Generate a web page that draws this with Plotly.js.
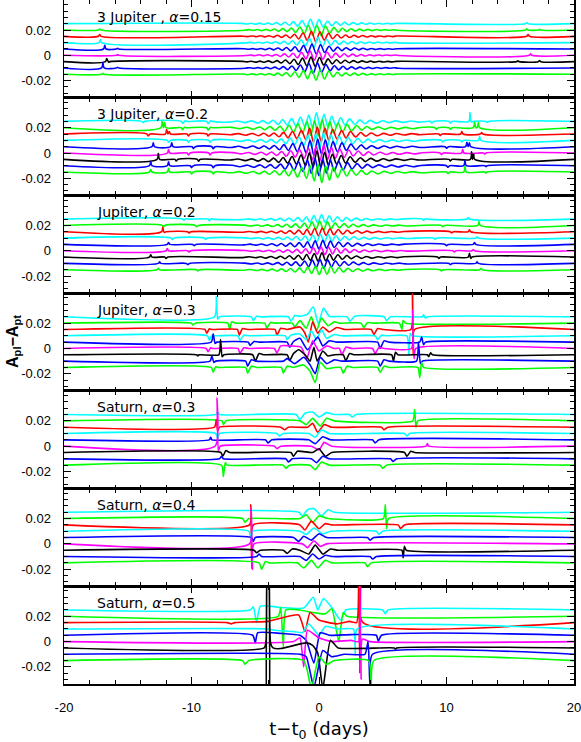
<!DOCTYPE html>
<html><head><meta charset="utf-8">
<script src="https://cdn.plot.ly/plotly-3.0.1.min.js"></script>
<style>body{margin:0;background:#fff}</style></head>
<body><div id="c" style="width:581px;height:742px"></div>
<script>
// ---------- data ----------
const COLORS = ['#00ffff','#00ff00','#ff0000','#00ffff','#0000ff','#ff00ff','#000000','#0000ff','#00ff00'];
const BASES = [0.025,0.02,0.015,0.01,0.005,0,-0.005,-0.01,-0.015];
const PANEL_TITLES = ['3 Jupiter , <i>α</i>=0.15','3 Jupiter, <i>α</i>=0.2','Jupiter, <i>α</i>=0.2','Jupiter, <i>α</i>=0.3','Saturn, <i>α</i>=0.3','Saturn, <i>α</i>=0.4','Saturn, <i>α</i>=0.5'];
const X_TICKS = [-20,-10,0,10,20];
const X_TICKTEXT = ['-20','-10','0','10','20'];
const Y_TICKS = [-0.02,0,0.02];
const Y_TICKTEXT = ['-0.02','0','0.02'];

// deviations in units of 1e-3, rows: cyan, green, red, cyan, blue, magenta, black, blue, green
const P1_T = [-6,-5.67,-5.33,-5,-4.67,-4.33,-4,-3.67,-3.33,-3,-2.67,-2.33,-2,-1.67,-1.33,-1,-0.67,-0.33,0,0.33,0.67,1,1.33,1.67,2,2.33,2.67,3,3.33,3.67,4,4.33,4.67,5,5.33,5.67,6];
const P1_SHIFT = [0,0.17,0.08,0.26,0.12,0.3,0.04,0.21,0.1];
const P1_WIG = [
[0.2,-0.3,0.3,-0.4,0.4,-0.5,0.5,-0.7,0.8,-1,1.1,-1.3,1.6,-2,2.4,-2.8,3.4,-3.5,3.2,-2.6,2.1,-1.7,1.4,-1.2,1,-0.9,0.8,-0.7,0.6,-0.5,0.5,-0.4,0.3,-0.3,0.3,-0.2,0.2],
[-0.2,0.3,-0.3,0.4,-0.5,0.5,-0.6,0.8,-0.9,1.1,-1.3,1.6,-2,2.4,-2.9,3.5,-4.2,3.6,-4.6,3.2,-2.6,2.1,-1.7,1.4,-1.2,1,-0.9,0.7,-0.6,0.5,-0.5,0.4,-0.3,0.3,-0.2,0.2,-0.2],
[0.1,-0.2,0.3,-0.3,0.4,-0.4,0.5,-0.6,0.8,-0.9,1.1,-1.3,1.6,-2,2.6,-3.2,4,-4.4,3.6,-3,2.3,-1.9,1.5,-1.3,1,-0.9,0.8,-0.7,0.6,-0.5,0.4,-0.4,0.3,-0.3,0.2,-0.2,0.2],
[-0.2,0.2,-0.3,0.3,-0.4,0.5,-0.5,0.7,-0.8,1,-1.2,1.4,-1.8,2.2,-2.6,3.2,-3.8,4.2,-3.4,2.7,-2.2,1.8,-1.5,1.2,-1,0.9,-0.8,0.7,-0.6,0.5,-0.4,0.4,-0.3,0.3,-0.2,0.2,-0.2],
[0.2,-0.2,0.3,-0.3,0.4,-0.5,0.6,-0.7,0.8,-1,1.2,-1.5,1.8,-2.2,2.7,-3.2,3.8,-4,3.4,-2.8,2.2,-1.8,1.5,-1.3,1,-0.9,0.8,-0.7,0.6,-0.5,0.4,-0.4,0.3,-0.3,0.2,-0.2,0.2],
[-0.2,0.2,-0.3,0.4,-0.4,0.5,-0.6,0.7,-0.9,1.1,-1.3,1.6,-2,2.4,-2.8,3.3,-3.8,3.6,-3.2,2.6,-2.1,1.7,-1.4,1.2,-1,0.9,-0.8,0.7,-0.6,0.5,-0.4,0.3,-0.3,0.3,-0.2,0.2,-0.2],
[0.2,-0.2,0.3,-0.4,0.4,-0.5,0.6,-0.7,0.8,-1,1.3,-1.6,1.9,-2.3,2.8,-3.3,3.6,-3.8,3.3,-2.7,2.2,-1.8,1.5,-1.3,1.1,-0.9,0.8,-0.7,0.6,-0.5,0.4,-0.4,0.3,-0.3,0.2,-0.2,0.2],
[-0.2,0.2,-0.3,0.3,-0.4,0.5,-0.6,0.7,-0.9,1.1,-1.3,1.6,-2,2.4,-3,3.5,-4.2,3.8,-3.4,2.7,-2.2,1.8,-1.5,1.3,-1.1,0.9,-0.8,0.7,-0.6,0.5,-0.4,0.4,-0.3,0.3,-0.2,0.2,-0.2],
[0.2,-0.3,0.3,-0.4,0.4,-0.5,0.6,-0.8,0.9,-1.1,1.4,-1.7,2,-2.5,3,-3.6,3.4,-4.6,3.6,-3.6,2.5,-2,1.6,-1.3,1.1,-1,0.9,-0.8,0.7,-0.6,0.5,-0.4,0.4,-0.3,0.3,-0.2,0.2]
];
const P1_FEAT = [
[[16.2,0],[16.3,0.8],[16.4,0]],
[[-17.3,0],[-17.2,0.8],[-17.1,0],[16.2,0],[16.3,1],[16.4,0],[17.2,0],[17.3,0.6],[17.4,0]],
[[-17.3,0],[-17.2,1.5],[-17.1,0],[16.3,0],[16.4,1.5],[16.5,0]],
[[-17.25,0],[-17.15,2.5],[-17.05,0]],
[[-16.9,0],[-16.8,3],[-16.7,0],[-15.9,0],[-15.8,0.6],[-15.7,0]],
[[-15.9,0],[-15.8,0.6],[-15.7,0],[16.5,0],[16.6,1.2],[16.7,0]],
[[-16.75,0],[-16.65,2.5],[-16.5,-0.5],[-16.4,0],[15.5,0],[15.6,0.6],[15.7,0],[17.2,0],[17.3,0.8],[17.4,0]],
[[-17.05,0],[-16.95,4],[-16.85,0],[-15.9,0],[-15.8,0.5],[-15.7,0]],
[[-17.05,0],[-16.95,0.8],[-16.85,0]]
];

const P2_T = [-7,-6.4,-5.8,-5.3,-4.8,-4.4,-4,-3.6,-3.2,-2.85,-2.5,-2.15,-1.8,-1.45,-1.1,-0.8,-0.5,-0.2,0.1,0.4,0.7,1.0,1.35,1.7,2.05,2.4,2.8,3.2,3.6,4.0,4.5,5.0,5.5,6.0,6.6,7.2,7.8];
const P2_SHIFT = [0,0.15,0.07,0.24,0.1,0.28,0.04,0.19,0.12];
const P2_WIG = [
[-0.6,0.3,-1,0.4,-1.4,0.6,-1.8,0.9,-2.4,1.4,-3,2.2,-3.8,3.4,-4.6,5,-5.5,6.8,-5,5.5,-4.5,4,-3.6,2.8,-3,2,-2.4,1.2,-1.8,0.8,-1.4,0.5,-1,0.4,-0.8,0.3,-0.6],
[0.3,-0.8,0.4,-1.2,0.6,-1.6,0.9,-2,1.2,-2.8,2,-3.6,3,-4.5,4.8,-6,5.5,-6.5,6.5,-5.5,4.8,-4.4,3.6,-3.4,2.6,-2.6,1.8,-1.9,1,-1.4,0.6,-1.2,0.4,-1,0.3,-0.8,0.2],
[-0.5,0.3,-0.9,0.4,-1.3,0.6,-1.7,0.8,-2.2,1.3,-3,2,-3.6,3,-4.6,4.8,-6.5,5.5,-6,4.8,-5,3.8,-4,2.8,-3.2,2,-2.4,1.2,-1.8,0.8,-1.4,0.5,-1,0.4,-0.8,0.3,-0.5],
[0.3,-0.8,0.4,-1.2,0.6,-1.5,0.8,-2,1.2,-2.6,1.8,-3.4,2.6,-4.2,3.8,-5.5,5,-6.8,5.8,-5.2,4.4,-4.2,3.2,-3.4,2.4,-2.6,1.6,-2,1,-1.5,0.6,-1.1,0.4,-0.9,0.3,-0.7,0.2],
[-0.6,0.3,-1,0.5,-1.4,0.6,-1.8,1,-2.4,1.6,-3,2.4,-4,3.4,-5,5,-7,6,-6,5.5,-5,4,-4,3,-3,2,-2.4,1.4,-1.8,0.8,-1.4,0.5,-1,0.4,-0.8,0.3,-0.6],
[0.3,-0.7,0.4,-1.1,0.6,-1.5,0.8,-2,1.2,-2.6,1.8,-3.2,2.6,-4.2,3.8,-5.5,5.6,-6,6.5,-5,4.4,-4.2,3.2,-3.4,2.4,-2.4,1.6,-2,1,-1.5,0.6,-1.2,0.4,-1,0.3,-0.7,0.2],
[-0.5,0.3,-1,0.4,-1.4,0.6,-1.8,1,-2.4,1.5,-3,2.2,-3.8,3.4,-5,5.2,-6,6.5,-6.5,5.5,-4.8,4,-3.8,3,-3,2,-2.4,1.3,-1.8,0.8,-1.4,0.5,-1,0.4,-0.8,0.3,-0.5],
[0.3,-0.8,0.4,-1.2,0.6,-1.6,0.8,-2,1.2,-2.8,2,-3.6,3,-4.4,4.4,-6,6,-8,5.5,-6,4.6,-4.2,3.4,-3.4,2.4,-2.6,1.6,-2,1,-1.5,0.6,-1.2,0.4,-1,0.3,-0.8,0.2],
[-0.6,0.3,-1,0.4,-1.4,0.6,-1.8,1,-2.4,1.5,-3,2.4,-4,3.5,-5,5,-7,6,-8.5,5,-6.5,4,-4.4,3,-3.2,2,-2.6,1.3,-2,0.8,-1.5,0.5,-1.1,0.4,-0.8,0.3,-0.6]
];
const P2_FEAT = [
[[-13.9,0],[-13.8,-1],[-13.65,0],[-10.8,0],[-10.7,-1.5],[-10.5,0.4],[-10.35,0],[-8.8,0],[-8.7,-1.8],[-8.5,0.4],[-8.35,0],[8.7,0],[8.85,-1.2],[9.0,0],[10.2,0],[10.3,-1.2],[10.45,0],[11.74,0],[11.84,7],[11.94,-0.5],[12.1,0],[13.1,0],[13.2,-0.8],[13.3,0]],
[[-12.4,0],[-12.3,5],[-12.2,0],[-12.1,4],[-12.0,0],[-10.8,0],[-10.7,-1.5],[-10.55,0.3],[-10.4,0],[-8.8,0],[-8.7,-1.8],[-8.5,0.4],[-8.35,0],[9.1,0],[9.2,-1.2],[9.35,0],[10.2,0],[10.3,-1.2],[10.45,0],[12.1,0],[12.2,4],[12.3,0],[12.4,0],[12.5,4],[12.6,0]],
[[-13.5,0],[-13.4,-1.5],[-13.25,0],[-12.05,0],[-11.95,3.5],[-11.85,0],[-11.75,2],[-11.65,0],[-10.35,0],[-10.25,-1.5],[-10.1,0],[-8.8,0],[-8.7,-1.6],[-8.55,0],[9.4,0],[9.5,-1.2],[9.65,0],[11.1,0],[11.2,2],[11.3,0],[12.65,0],[12.76,1.2],[12.85,0]],
[[-11.9,0],[-11.8,-1.5],[-11.65,0],[-10.35,0],[-10.25,-1.5],[-10.1,0],[-8.65,0],[-8.55,-1.5],[-8.4,0],[9.6,0],[9.7,-1.2],[9.85,0],[11.1,0],[11.2,-1.2],[11.35,0],[12.5,0],[12.6,3],[12.7,0]],
[[-13.1,0],[-13.0,3],[-12.9,0],[-11.65,0],[-11.55,3],[-11.45,0],[-9.95,0],[-9.85,-1.5],[-9.7,0],[-8.4,0],[-8.3,-1.6],[-8.15,0],[9.9,0],[10.0,-1.2],[10.15,0],[11.5,0],[11.6,3.5],[11.7,0],[11.8,3],[11.9,0]],
[[-11.9,0],[-11.8,3],[-11.7,0],[-10.35,0],[-10.25,-1.5],[-10.1,0],[-8.65,0],[-8.55,-1.5],[-8.4,0],[9.5,0],[9.6,-1.2],[9.75,0],[11.17,0],[11.27,3],[11.37,0],[12.9,0],[13.0,-0.8],[13.1,0]],
[[-12.7,0],[-12.6,4.5],[-12.5,0],[-11.3,0],[-11.2,-1.2],[-11.05,0],[-9.55,0],[-9.45,-1.5],[-9.3,0],[10.2,0],[10.3,-1.2],[10.45,0],[11.87,0],[11.97,6],[12.05,0],[12.13,4],[12.22,0]],
[[-13.3,0],[-13.2,3],[-13.1,0],[-11.9,0],[-11.8,3],[-11.7,0],[-10.1,0],[-10.0,-1.5],[-9.85,0],[-8.4,0],[-8.3,-1.6],[-8.15,0],[10.0,0],[10.1,-1.2],[10.25,0],[11.35,0],[11.45,4],[11.55,0],[13.0,0],[13.1,-0.8],[13.2,0]],
[[-13.3,0],[-13.2,2],[-13.1,0],[-11.9,0],[-11.8,3],[-11.7,0],[-10.1,0],[-10.0,-1.5],[-9.85,0],[-8.4,0],[-8.3,-1.6],[-8.15,0],[10.0,0],[10.1,-1.2],[10.25,0],[11.35,0],[11.45,4.5],[11.55,0],[13.0,0],[13.1,-0.8],[13.2,0]]
];

const P3_T = [-6,-5.5,-5,-4.6,-4.2,-3.8,-3.4,-3.05,-2.7,-2.35,-2,-1.65,-1.3,-1,-0.7,-0.4,-0.1,0.2,0.5,0.8,1.1,1.45,1.8,2.15,2.5,2.9,3.3,3.7,4.1,4.6,5.1,5.6,6.1,6.6];
const P3_SHIFT = [0,0.16,0.06,0.22,0.1,0.26,0.03,0.18,0.12];
const P3_WIG = [
[-0.4,0.2,-0.6,0.3,-0.8,0.4,-1,0.6,-1.3,0.8,-1.6,1.2,-2,1.8,-2.6,2.8,-3,3.4,-2.8,2.6,-2.2,1.8,-1.8,1.3,-1.4,0.8,-1.1,0.5,-0.8,0.3,-0.6,0.2,-0.4,0.2],
[0.2,-0.5,0.3,-0.7,0.4,-0.9,0.6,-1.2,0.9,-1.5,1.2,-2,1.8,-2.4,2.6,-3,3.2,-3.6,2.8,-2.6,2,-2,1.4,-1.5,0.9,-1.1,0.6,-0.9,0.4,-0.7,0.3,-0.5,0.2,-0.4],
[-0.4,0.2,-0.5,0.3,-0.8,0.4,-1,0.6,-1.3,0.9,-1.7,1.3,-2.2,1.9,-2.8,2.6,-3.4,3,-3,2.4,-2.4,1.8,-1.8,1.2,-1.4,0.8,-1.1,0.5,-0.8,0.3,-0.6,0.2,-0.4,0.2],
[0.2,-0.4,0.3,-0.7,0.4,-0.9,0.6,-1.1,0.8,-1.5,1.2,-1.9,1.7,-2.4,2.4,-3,3,-3.4,2.8,-2.6,2,-2,1.4,-1.5,1,-1.1,0.6,-0.9,0.4,-0.7,0.3,-0.5,0.2,-0.3],
[-0.4,0.2,-0.6,0.3,-0.8,0.5,-1,0.7,-1.4,1,-1.8,1.4,-2.2,2,-2.8,2.8,-3.6,3.2,-3,2.6,-2.4,1.8,-1.8,1.2,-1.4,0.8,-1,0.5,-0.8,0.3,-0.6,0.2,-0.4,0.2],
[0.2,-0.4,0.3,-0.6,0.4,-0.9,0.6,-1.1,0.8,-1.5,1.1,-1.9,1.6,-2.4,2.4,-2.8,3,-3.2,2.8,-2.6,2.2,-2,1.5,-1.5,1,-1.1,0.6,-0.8,0.4,-0.7,0.3,-0.5,0.2,-0.3],
[-0.4,0.2,-0.5,0.3,-0.8,0.5,-1,0.7,-1.3,1,-1.7,1.4,-2.2,2,-2.6,2.8,-3.2,3.4,-3,2.4,-2.4,1.8,-1.7,1.2,-1.3,0.8,-1,0.5,-0.8,0.3,-0.6,0.2,-0.4,0.2],
[0.2,-0.5,0.3,-0.7,0.4,-0.9,0.6,-1.2,0.9,-1.6,1.2,-2,1.8,-2.6,2.6,-3.2,3,-3.8,2.8,-2.8,2,-2.1,1.4,-1.5,1,-1.1,0.6,-0.9,0.4,-0.7,0.3,-0.5,0.2,-0.4],
[-0.4,0.2,-0.6,0.3,-0.8,0.5,-1.1,0.7,-1.4,1,-1.8,1.5,-2.4,2.2,-3,2.8,-3.8,3,-3.6,2.6,-2.6,1.8,-1.8,1.2,-1.4,0.8,-1.1,0.5,-0.8,0.3,-0.6,0.2,-0.4,0.2]
];
const P3_FEAT = [
[[-10.7,0],[-10.6,-1],[-10.45,0.3],[-10.3,0],[-8.7,0],[-8.6,-1.2],[-8.45,0.3],[-8.3,0],[8.1,0],[8.2,-1],[8.35,0.3],[8.5,0],[11.6,0],[11.7,1.2],[11.8,0]],
[[-12.3,0],[-12.2,-1.2],[-12.1,0],[-9.7,0],[-9.6,-1],[-9.45,0],[9.6,0],[9.7,-1],[9.85,0],[12.45,0],[12.55,3],[12.65,0]],
[[-12.35,0],[-12.25,3.5],[-12.15,-0.5],[-12.0,0],[-10.3,0],[-10.2,-1],[-10.05,0],[10.3,0],[10.4,-1],[10.55,0],[11.7,0],[11.8,1.5],[11.9,0]],
[[-11.6,0],[-11.5,-1.2],[-11.35,0],[-9.0,0],[-8.9,-1],[-8.75,0],[9.0,0],[9.1,-1],[9.25,0],[12.3,0],[12.4,1],[12.5,0]],
[[-11.9,0],[-11.8,1.5],[-11.7,0],[-9.9,0],[-9.8,-1],[-9.65,0],[9.9,0],[10.0,-1],[10.15,0],[12.1,0],[12.2,1.5],[12.3,0]],
[[-12.0,0],[-11.9,1.8],[-11.8,0],[-10.3,0],[-10.2,-1],[-10.05,0],[10.5,0],[10.6,-1],[10.75,0],[12.0,0],[12.1,1],[12.2,0]],
[[-13.3,0],[-13.2,1.8],[-13.1,0],[-12.1,0],[-12.0,-1],[-11.85,0],[9.3,0],[9.4,-1],[9.55,0],[11.7,0],[11.8,3],[11.9,-1],[12.0,0]],
[[-12.6,0],[-12.5,1.2],[-12.4,0],[-10.4,0],[-10.3,-1],[-10.15,0],[10.2,0],[10.3,-1],[10.45,0],[12.3,0],[12.4,1.2],[12.5,0]],
[[-12.7,0],[-12.6,1.2],[-12.5,0],[-9.6,0],[-9.5,-1],[-9.35,0],[9.5,0],[9.6,-1],[9.75,0],[12.6,0],[12.7,1],[12.8,0]]
];

const P4_FEAT = [
[[-8.2,0],[-8.05,16],[-7.95,-2],[-7.8,0],[-5.3,0],[-5.15,-3],[-4.9,0.5],[-4.6,0],[-2.4,0],[-2.2,-3.5],[-1.9,1],[-1.5,0.5],[-0.9,2],[-0.45,8],[-0.05,-5.5],[0.35,7],[0.8,0.5],[2.2,0],[2.43,-3.5],[2.8,0.5],[5.1,0],[5.3,-3],[5.6,0],[8.1,0],[8.2,1.5],[8.35,-1],[8.5,0]],
[[-10,0],[-9.9,-1.5],[-9.7,0],[-7.15,0],[-7.0,-5],[-6.85,1],[-6.5,0],[-4.25,0],[-4.1,-4],[-3.8,0.5],[-3.4,0],[-2.1,0],[-1.9,-3],[-1.5,2],[-1.0,-4],[-0.6,5],[-0.2,-6],[0.2,4],[0.7,-2],[1.2,1],[1.6,0],[3.3,0],[3.5,-3.5],[3.8,0.5],[4.2,0],[6.3,0],[6.5,-5],[6.6,2],[6.8,0]],
[[-8.95,0],[-8.8,-3],[-8.6,0.5],[-8.4,0],[-6.4,0],[-6.25,-4.5],[-6.0,0.8],[-5.6,0],[-3.45,0],[-3.3,-4.5],[-3.0,1],[-2.5,0],[-1.5,2],[-1.1,-3],[-0.84,-10],[-0.5,6],[-0.1,-3],[0.3,2],[0.8,-2],[1.4,1.5],[2,0],[4.1,0],[4.3,-4],[4.6,0.8],[5,0],[7.2,0],[7.3,40],[7.4,-20],[7.5,0]],
[[-8.75,0],[-8.6,-3.4],[-8.4,0.5],[-8.2,0],[-6.35,0],[-6.2,-3.5],[-5.9,0.5],[-5.5,0],[-2.65,0],[-2.5,-3],[-2.2,0.5],[-1.5,1.5],[-1.0,-3],[-0.6,4],[-0.2,-3],[0.2,5],[0.6,-2],[1.2,1],[1.8,0],[4.4,0],[4.6,-3],[4.9,0.5],[5.3,0],[6.9,0],[7.05,-15],[7.15,2],[7.3,0]],
[[-8.45,0],[-8.3,6.5],[-8.15,-1],[-8.0,0],[-5.55,0],[-5.4,-2.6],[-5.1,0.5],[-4.7,0],[-2.5,0],[-2.3,-4],[-2.0,0.5],[-1.5,3],[-0.9,-6],[-0.1,4],[0.3,-3],[0.8,1],[1.4,0],[4.6,0],[4.8,-5],[5.1,1],[5.5,0],[7.9,0],[8.05,4],[8.2,-2],[8.35,0]],
[[-8.85,0],[-8.7,-2.6],[-8.5,0.5],[-8.3,0],[-6.35,0],[-6.2,-4],[-5.9,0.5],[-5.5,0],[-3.5,0],[-3.3,-3.5],[-3,2],[-2.2,2],[-1.4,1],[-0.96,-8],[-0.5,6],[0,-2],[0.6,2],[1.2,0],[1.6,0],[1.8,-5],[2.1,1],[2.6,0],[4.2,0],[4.4,-4],[4.7,0.8],[5.1,0],[7.25,0],[7.35,30],[7.45,-8],[7.6,0]],
[[-9.6,0],[-9.5,-1],[-9.4,0],[-7.85,0],[-7.72,12],[-7.6,-1.5],[-7.45,0],[-5.2,0],[-5.0,-5],[-4.7,1],[-4.3,0],[-2.5,0],[-2.3,-4.5],[-2.0,1],[-1.6,4],[-1.1,0],[-0.7,-5],[-0.4,6],[-0.14,-5],[0.3,3],[0.7,-1],[1.2,0],[1.9,0],[2.1,-4.7],[2.4,1],[2.8,0],[5.7,0],[5.84,-5],[6.0,2],[6.2,0],[8.5,0],[8.6,-1.5],[8.75,1.5],[8.9,0]],
[[-8.55,0],[-8.4,4],[-8.25,-1],[-8.1,0],[-5.75,0],[-5.6,-4],[-5.3,1],[-4.9,0],[-2.8,0],[-2.5,2],[-1.9,-2],[-1.2,3],[-0.7,-3],[-0.3,-10],[0.1,3],[0.6,-2],[1.2,1],[1.8,0],[4.6,0],[4.8,-4],[5.1,1],[5.5,0],[7.65,0],[7.8,15],[7.95,-2],[8.1,0]],
[[-8.45,0],[-8.3,-3.7],[-8.1,0.5],[-7.9,0],[-5.75,0],[-5.6,-4.5],[-5.3,1],[-4.9,0],[-2.95,0],[-2.8,-4.5],[-2.5,1],[-2,0],[-1.2,2],[-0.7,-3],[-0.3,-12],[0.1,4],[0.6,-1],[1.2,0],[1.7,0],[1.9,-4.5],[2.2,1],[2.6,0],[4.6,0],[4.8,-4],[5.1,1],[5.5,0],[7.75,0],[7.9,-8],[8.05,4],[8.2,0]]
];

const P5_FEAT = [
[[-8.1,0],[-7.95,2],[-7.8,0],[-1.8,0],[-1.5,-4],[-1.1,1],[-0.5,2],[0,-2],[0.6,1.5],[1.2,0],[2.4,0],[2.6,-2],[2.9,0]],
[[-7.6,0],[-7.5,-3],[-7.3,0],[-1.5,0],[-1,-3],[-0.5,2],[0.1,-4],[0.6,2],[1.2,0],[7.35,0],[7.5,9],[7.6,-5],[7.75,0]],
[[-8.2,0],[-8.05,6],[-7.95,-3],[-7.8,0],[-3,0],[-2.7,-2],[-2.4,0],[-0.9,0],[-0.5,3],[-0.1,-4],[0.4,2],[1,0],[4.9,0],[5.1,-2],[5.4,0]],
[[-8.1,0],[-7.95,-4],[-7.8,0],[-3.3,0],[-3.1,-2],[-2.8,0],[-0.8,0],[-0.3,-3],[0.2,3],[0.8,0],[6.7,0],[6.9,-2],[7.1,0]],
[[-8.6,0],[-8.5,2],[-8.4,0],[-4.2,0],[-4.0,-2.5],[-3.7,0],[-0.8,0],[-0.3,-3],[0.3,2.5],[0.9,0],[4.2,0],[4.4,-2.5],[4.7,0]],
[[-8.15,0],[-8.0,38],[-7.9,-4],[-7.75,0],[-3.5,0],[-3.3,-2],[-3,0],[-0.6,0],[0,-3],[0.4,3],[1,0],[8.4,0],[8.5,2],[8.6,0]],
[[-7.7,0],[-7.55,-3],[-7.3,1.5],[-7,0],[-2.2,0],[-2,-3],[-1.7,1],[-0.5,0],[0,3],[0.5,-3],[1,0],[6.7,0],[6.9,-3],[7.2,1],[7.5,0]],
[[-7.8,0],[-7.65,2],[-7.5,0],[-2.6,0],[-2.4,-2.5],[-2.1,0],[-0.6,0],[-0.2,-3],[0.3,2],[0.8,0],[5.6,0],[5.8,-2],[6.1,0]],
[[-7.65,0],[-7.5,-9],[-7.35,2],[-7.2,0],[-2.8,0],[-2.6,-2.5],[-2.3,0],[-0.7,0],[-0.3,-3.5],[0.2,2.5],[0.8,0],[4.8,0],[5,-2.5],[5.3,0]]
];

const P6_FEAT = [
[[-1.6,0],[-1.3,-3],[-0.9,2],[-0.4,3],[0.2,-3],[0.7,2],[1.2,0]],
[[-6.0,0],[-5.8,-3],[-5.5,0],[-1.5,0],[-1,3],[-0.5,-3],[0,2],[0.7,0],[5.05,0],[5.2,11],[5.3,-8],[5.45,0]],
[[-5.45,0],[-5.35,16],[-5.25,-35],[-5.15,0],[-1.5,0],[-1.1,-4],[-0.6,3],[0,-3],[0.5,1],[1,0],[6.2,0],[6.4,-3],[6.7,0]],
[[-5.5,0],[-5.35,-6],[-5.2,0],[-1.5,0],[-1,-2.5],[-0.4,2.5],[0.3,-2],[0.9,0],[4.5,0],[4.7,-2.5],[5,0]],
[[-5.3,0],[-5.15,-3],[-5,0],[-2,0],[-1.6,-3],[-1.2,1],[-0.6,-2],[0,3],[0.6,0],[3.8,0],[4,-2],[4.3,0]],
[[-5.45,0],[-5.33,28],[-5.22,-20],[-5.1,0],[-1.3,0],[-0.9,-3],[-0.4,2.5],[0.1,-2],[0.6,0]],
[[-5.1,0],[-4.9,-2],[-4.6,0],[-2.8,0],[-2.5,-2.5],[-2.1,1],[-1.5,0],[-0.8,-3],[-0.3,4],[0.3,-3],[0.9,1],[1.5,0],[6.5,0],[6.6,-6],[6.7,3],[6.85,0]],
[[-4.9,0],[-4.7,2],[-4.5,0],[-1.5,0],[-1,-3],[-0.5,2],[0,-2],[0.5,1],[1.1,0],[4.0,0],[4.2,-2],[4.5,0]],
[[-4.7,0],[-4.5,-5],[-4.2,1],[-3.9,0],[-1.7,0],[-1.2,-4],[-0.6,2],[-0.1,-4],[0.5,2],[1,0],[3.6,0],[3.8,-3],[4.1,0]]
];

const P7_FEAT = [
[[-5.4,0],[-5.15,2.6],[-4.9,-10],[-4.6,3],[-3,2],[-1.2,1.5],[-0.45,10],[-0.1,0],[0.35,9],[1.0,2],[1.7,-8],[2.1,0],[5.0,0],[5.2,-3],[5.4,0]],
[[-3.2,0],[-3.0,7],[-2.8,-24],[-2.6,5],[-1.5,5],[-0.5,3],[0.5,2],[1.0,6],[1.55,-20],[1.9,3],[2.2,0]],
[[-7.2,0],[-6.9,-1],[-6.6,0],[-4,1],[-1.6,6],[-1.1,-7],[-0.7,8],[0,2],[1.4,-1],[2.4,1],[2.95,0],[3.1,60],[3.2,-40],[3.3,60],[3.45,0]],
[[-4,0],[-3.5,-1],[-2,-2],[-1.3,-3],[-0.8,4],[0,-5],[0.5,2],[1.5,0],[2.7,0],[2.85,-20],[3.0,0]],
[[-5.2,0],[-5.0,-6],[-4.8,2],[-3,1.5],[-1.5,0],[-1.0,-4],[-0.4,-22],[0.1,2],[0.8,0],[2.5,0.5],[4.5,0],[4.65,-4.7],[4.9,0]],
[[-2,0],[-1.5,3],[-1.2,-20],[-0.9,9],[0,3],[1,0],[2.5,1],[3.1,0],[3.2,45],[3.3,-30],[3.4,2],[4,0]],
[[-4.3,0],[-4.15,6],[-4.1,60],[-4.05,-60],[-3.95,-60],[-3.9,60],[-3.8,4],[-3.6,0],[-3,-0.5],[-1,4],[-0.5,2],[-0.1,-4],[0.3,-32],[0.9,6],[1.5,0],[5.9,0],[6.0,-1],[6.1,0]],
[[-1.5,0],[-1,-2],[-0.4,-26],[0.3,3],[1,-2],[2,0],[3.6,0],[3.85,10],[4.0,-26],[4.2,0]],
[[-6,0],[-5.8,-3],[-5.5,0],[-1.2,0],[-0.6,-22],[0,3],[0.6,-3],[1.2,0],[3.9,0],[4.1,-22],[4.3,0]]
];

// ---------- build ----------
const PANELS = [
  {t:P1_T, s:P1_SHIFT, w:P1_WIG, f:P1_FEAT, sm:0.9},
  {t:P2_T, s:P2_SHIFT, w:P2_WIG, f:P2_FEAT, sm:0.9},
  {t:P3_T, s:P3_SHIFT, w:P3_WIG, f:P3_FEAT, sm:0.9},
  {t:null, s:null, w:null, f:P4_FEAT, sm:0.5},
  {t:null, s:null, w:null, f:P5_FEAT, sm:0.5},
  {t:null, s:null, w:null, f:P6_FEAT, sm:0.5},
  {t:null, s:null, w:null, f:P7_FEAT, sm:0.5}
];
const N = PANELS.length;
const traces = [];
const FONT = 'DejaVu Sans, Liberation Sans, Arial, sans-serif';
const layout = {
  width:581, height:742, showlegend:false,
  margin:{l:64, r:7, t:0, b:58},
  paper_bgcolor:'#fff', plot_bgcolor:'#fff',
  font:{family:'Liberation Sans, Arial, sans-serif', color:'#000', size:13},
  annotations:[]
};
PANELS.forEach((p, k) => {
  const sfx = k === 0 ? '' : String(k+1);
  for (let c = 0; c < 9; c++) {
    const pts = [[-20,0],[20,0]];
    if (p.t) p.t.forEach((tt, i) => { if (i < p.w[c].length) pts.push([tt + p.s[c], p.w[c][i]]); });
    p.f[c].forEach(q => pts.push(q));
    pts.sort((a,b) => a[0]-b[0]);
    traces.push({
      type:'scatter', mode:'lines', xaxis:'x'+sfx, yaxis:'y'+sfx,
      x: pts.map(q => q[0]), y: pts.map(q => BASES[c] + q[1]*1e-3),
      line:{color:COLORS[c], width:1.6, shape:'spline', smoothing:p.sm},
      hoverinfo:'skip'
    });
  }
  const top = 1 - k/N, bot = 1 - (k+1)/N;
  layout['xaxis'+sfx] = {
    domain:[0,1], anchor:'y'+sfx, range:[-20,20], showgrid:false, zeroline:false,
    showline:true, linecolor:'#000', linewidth:1.5, mirror:'ticks',
    ticks:'inside', ticklen:7, tickwidth:1, tickcolor:'#000',
    tickmode:'array', tickvals:X_TICKS, ticktext:X_TICKTEXT,
    showticklabels: k === N-1, ticklabelstandoff:11, ticklabeloverflow:'allow',
    tickfont:{size:13},
    minor:{tickmode:'linear', tick0:0, dtick:2, ticks:'inside', ticklen:4, tickwidth:1, tickcolor:'#000'}
  };
  layout['yaxis'+sfx] = {
    domain:[bot, top], anchor:'x'+sfx, range:[-0.0335, 0.0437], showgrid:false, zeroline:false,
    showline:true, linecolor:'#000', linewidth:1.5, mirror:'ticks',
    ticks:'inside', ticklen:7, tickwidth:1, tickcolor:'#000',
    tickmode:'array', tickvals:Y_TICKS, ticktext:Y_TICKTEXT, ticklabelstandoff:9,
    tickfont:{size:13},
    minor:{tickmode:'linear', tick0:0, dtick:0.005, ticks:'inside', ticklen:4, tickwidth:1, tickcolor:'#000'}
  };
  layout.annotations.push({
    xref:'x'+sfx, yref:'y'+sfx+' domain', x:-17.6, y:0.83, xanchor:'left', yanchor:'middle',
    text:PANEL_TITLES[k], showarrow:false, font:{family:FONT, size:14, color:'#000'}
  });
});
layout['xaxis'+N].title = {text:'t\u2212t<sub>0</sub> (days)', font:{family:FONT, size:18}, standoff:9};
layout.annotations.push({
  xref:'paper', yref:'paper', x:-0.1, y:0.5, xanchor:'center', yanchor:'middle', textangle:-90,
  text:'<b>A<sub>pl</sub>\u2212A<sub>pt</sub></b>', showarrow:false, font:{size:16, color:'#000'}
});
Plotly.newPlot('c', traces, layout, {staticPlot:true});
</script></body></html>
